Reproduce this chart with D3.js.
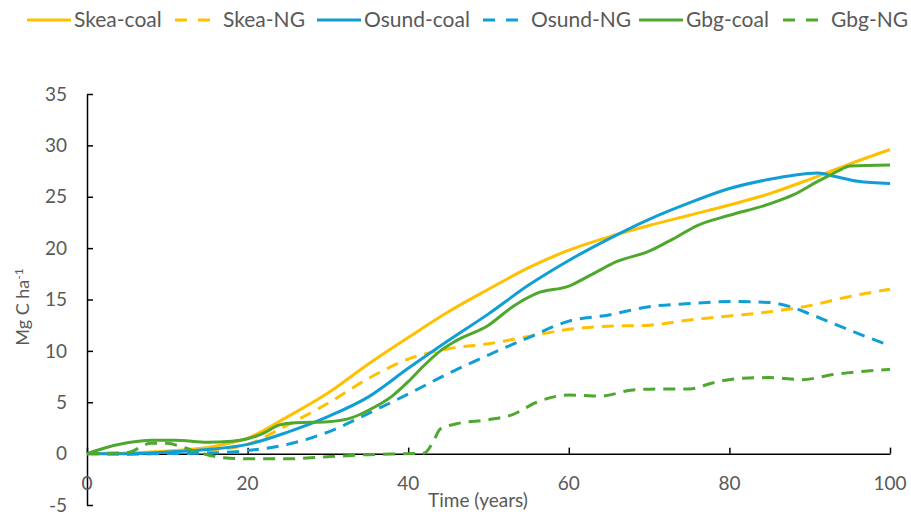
<!DOCTYPE html>
<html>
<head>
<meta charset="utf-8">
<script src="https://cdn.jsdelivr.net/npm/d3@7"></script>
<style>
  body { margin: 0; background: #fff; }
  text { font-family: Lato, "Open Sans", sans-serif; fill: #595959; }
</style>
</head>
<body>
<script>
// data: [year, Mg C/ha]
var skeaCoal = [[0,0],[5,0.05],[10,0.25],[15,0.6],[20,1.5],[25,3.6],[30,5.9],[35,8.7],[40,11.3],[45,13.8],[50,16.0],[55,18.1],[60,19.8],[65,21.1],[70,22.2],[75,23.2],[80,24.2],[85,25.3],[90,26.7],[95,28.2],[100,29.6]];
var skeaNG = [[0,0],[5,0],[10,0.1],[15,0.3],[20,0.9],[25,2.8],[30,4.9],[35,7.3],[40,9.2],[45,10.2],[50,10.7],[55,11.4],[60,12.1],[65,12.4],[70,12.5],[75,13.0],[80,13.4],[85,13.8],[90,14.4],[95,15.3],[100,16.0]];
var osundCoal = [[0,0],[5,0],[10,0.15],[15,0.4],[20,0.9],[25,2.1],[30,3.6],[35,5.5],[40,8.3],[45,11.0],[50,13.6],[55,16.4],[60,18.8],[65,20.9],[70,22.8],[75,24.4],[80,25.8],[85,26.7],[88,27.1],[91,27.3],[93,27.0],[96,26.5],[100,26.3]];
var osundNG = [[0,0],[5,-0.05],[10,0],[15,0.05],[20,0.3],[25,0.9],[30,2.1],[35,3.9],[40,5.8],[45,7.8],[50,9.6],[55,11.3],[60,12.9],[65,13.5],[70,14.3],[75,14.6],[80,14.8],[85,14.7],[88,14.2],[90,13.6],[95,12.0],[100,10.5]];
var gbgCoal = [[0,0],[2,0.5],[5,1.05],[8,1.3],[11,1.3],[15,1.1],[18,1.2],[20,1.45],[22,2.0],[24,2.8],[26,3.0],[30,3.1],[33,3.5],[35,4.2],[38,5.6],[40,7.0],[42,8.6],[44,10.0],[46,11.0],[50,12.5],[53,14.3],[56,15.6],[60,16.3],[63,17.5],[66,18.7],[70,19.7],[73,20.9],[76,22.2],[80,23.2],[85,24.3],[88,25.2],[91,26.5],[93,27.3],[94,27.7],[95,28.0],[100,28.1]];
var gbgNG = [[0,0],[5,0.1],[8,1.0],[10,1.0],[12,0.6],[14,0.1],[17,-0.4],[20,-0.5],[25,-0.5],[30,-0.3],[35,-0.1],[40,0],[42,0.05],[43,1.0],[44,2.4],[46,2.9],[50,3.3],[53,3.8],[56,5.0],[60,5.7],[64,5.6],[68,6.2],[72,6.3],[75,6.3],[78,6.9],[81,7.3],[85,7.4],[89,7.2],[93,7.7],[100,8.2]];

var seriesNames = ['Skea-coal', 'Skea-NG', 'Osund-coal', 'Osund-NG', 'Gbg-coal', 'Gbg-NG'];
var seriesData = [skeaCoal, skeaNG, osundCoal, osundNG, gbgCoal, gbgNG];
var seriesColors = ['#FFC000', '#FFC000', '#0F9ED5', '#0F9ED5', '#4EA72E', '#4EA72E'];
var seriesDashed = [false, true, false, true, false, true];

var xTicks = [0, 20, 40, 60, 80, 100];
var yTicks = [-5, 0, 5, 10, 15, 20, 25, 30, 35];

var g = {};
g.screen = {'width': 911, 'height': 515};
g.plot = {'left': 87, 'right': 890, 'top': 94, 'bottom': 505};

var svg = d3.select('body').append('svg')
  .attr('width', g.screen.width)
  .attr('height', g.screen.height);

var x = d3.scaleLinear().domain([0, 100]).range([g.plot.left, g.plot.right]);
var y = d3.scaleLinear().domain([-5, 35]).range([g.plot.bottom, g.plot.top]);

// y axis, ticks pointing into the plot
var yAxis = svg.append('g')
  .attr('transform', 'translate(' + g.plot.left + ',0)')
  .call(d3.axisRight(y).tickValues(yTicks).tickSize(6).tickSizeOuter(0).tickFormat(''));
yAxis.select('.domain').attr('stroke', '#000').attr('stroke-width', 1.5);
yAxis.selectAll('.tick line').attr('stroke', '#000').attr('stroke-width', 1.5);

svg.append('g').selectAll('text')
  .data(yTicks)
  .enter().append('text')
  .attr('x', 67)
  .attr('y', function(d){ return y(d); })
  .attr('dy', '0.35em')
  .attr('text-anchor', 'end')
  .style('font-size', '19px')
  .text(function(d){ return d; });

// x axis sits on zero, ticks pointing up
var xAxis = svg.append('g')
  .attr('transform', 'translate(0,' + y(0) + ')')
  .call(d3.axisTop(x).tickValues(xTicks).tickSize(6).tickSizeOuter(0).tickFormat(''));
xAxis.select('.domain').attr('stroke', '#000').attr('stroke-width', 1.5);
xAxis.selectAll('.tick line').attr('stroke', '#000').attr('stroke-width', 1.5);

svg.append('g').selectAll('text')
  .data(xTicks)
  .enter().append('text')
  .attr('x', function(d){ return x(d); })
  .attr('y', 490)
  .attr('text-anchor', 'middle')
  .style('font-size', '19px')
  .text(function(d){ return d; });

// axis titles
svg.append('text')
  .attr('x', 478)
  .attr('y', 507)
  .attr('text-anchor', 'middle')
  .style('font-size', '19px')
  .text('Time (years)');

var yTitle = svg.append('text')
  .attr('transform', 'translate(29,307) rotate(-90)')
  .attr('text-anchor', 'middle')
  .style('font-size', '18px');
yTitle.append('tspan').text('Mg C ha');
yTitle.append('tspan').attr('dy', '-0.5em').style('font-size', '12px').text('-1');

// lines
var line = d3.line()
  .x(function(d){ return x(d[0]); })
  .y(function(d){ return y(d[1]); })
  .curve(d3.curveMonotoneX);

svg.append('g').selectAll('path')
  .data(seriesData)
  .enter().append('path')
  .attr('d', line)
  .attr('fill', 'none')
  .attr('stroke', function(d, i){ return seriesColors[i]; })
  .attr('stroke-width', 3)
  .attr('stroke-dasharray', function(d, i){ return seriesDashed[i] ? '12,8' : null; });

// legend across the top
var legendX = [27, 175, 317, 483, 639, 783];
var legend = svg.append('g').selectAll('g')
  .data(seriesNames)
  .enter().append('g')
  .attr('transform', function(d, i){ return 'translate(' + legendX[i] + ',20)'; });

legend.append('line')
  .attr('x1', 0)
  .attr('x2', function(d, i){ return seriesDashed[i] ? 36 : 44; })
  .attr('stroke', function(d, i){ return seriesColors[i]; })
  .attr('stroke-width', 3)
  .attr('stroke-dasharray', function(d, i){ return seriesDashed[i] ? '12,11' : null; });

legend.append('text')
  .attr('x', function(d, i){ return seriesDashed[i] ? 48 : 47; })
  .attr('dy', '0.35em')
  .style('font-size', '21px')
  .text(function(d){ return d; });
</script>
</body>
</html>
